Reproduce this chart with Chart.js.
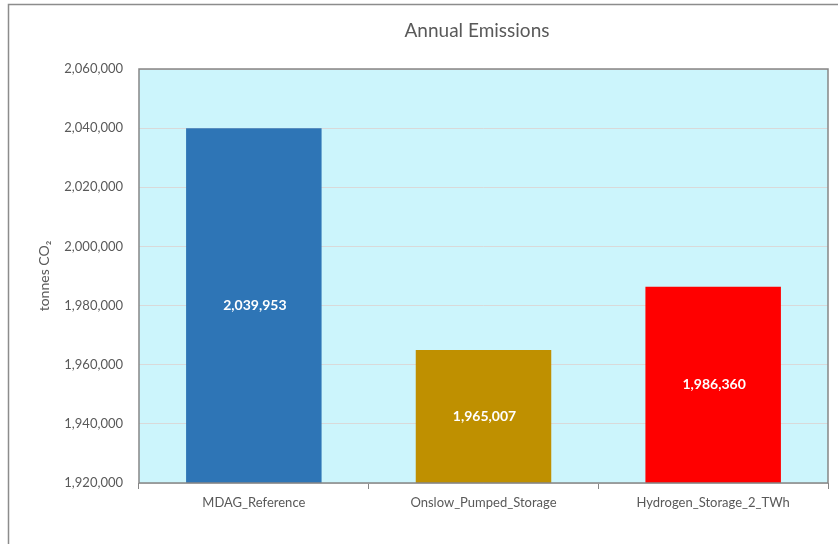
<!DOCTYPE html>
<html>
<head>
<meta charset="utf-8">
<title>Annual Emissions</title>
<script src="https://cdn.jsdelivr.net/npm/chart.js@4.4.1/dist/chart.umd.min.js"></script>
<style>
  html, body { margin: 0; padding: 0; background: #fff; }
  #wrap { width: 838px; height: 544px; position: relative; }
</style>
</head>
<body>
<div id="wrap"><canvas id="chart"></canvas></div>
<script>
const scenarios = ['MDAG_Reference', 'Onslow_Pumped_Storage', 'Hydrogen_Storage_2_TWh']
const emissions = [2039953, 1965007, 1986360]
const barColours = ['#2E75B6', '#BF9000', '#FF0000']
const yMin = 1920000
const yMax = 2060000
const yStep = 20000
const chartTitle = 'Annual Emissions'

const fmt = v => v.toLocaleString('en-US')

// outer chart frame, title, cyan plot fill and plot border
const framePlugin = {
  id: 'frame',
  beforeDraw(chart) {
    const { ctx, chartArea: a } = chart
    ctx.save()
    ctx.strokeStyle = '#8c8c8c'
    ctx.lineWidth = 1.5
    ctx.strokeRect(8.5, 4.5, 900, 600)
    ctx.fillStyle = '#CCF5FC'
    ctx.fillRect(a.left, a.top, a.right - a.left, a.bottom - a.top)
    // title sits centred on the full (wider) chart frame
    ctx.fillStyle = '#595959'
    ctx.font = '19px Lato'
    ctx.textAlign = 'center'
    ctx.textBaseline = 'middle'
    ctx.fillText(chartTitle, 477, 31)
    ctx.restore()
  },
  afterDatasetsDraw(chart) {
    const { ctx, chartArea: a } = chart
    ctx.save()
    ctx.strokeStyle = '#868686'
    ctx.lineWidth = 1.5
    ctx.strokeRect(a.left, a.top, a.right - a.left, a.bottom - a.top)
    ctx.restore()
  }
}

// value labels centred inside each bar
const valueLabels = {
  id: 'valueLabels',
  afterDraw(chart) {
    const { ctx } = chart
    const xs = chart.scales.x
    const ys = chart.scales.y
    ctx.save()
    ctx.fillStyle = '#ffffff'
    ctx.font = 'bold 14px Lato'
    ctx.textAlign = 'center'
    ctx.textBaseline = 'middle'
    emissions.forEach((v, i) => {
      const x = xs.getPixelForValue(i)
      const y = (ys.getPixelForValue(v) + ys.getPixelForValue(yMin)) / 2
      ctx.fillText(fmt(v), x + 1, y)
    })
    ctx.restore()
  }
}

new Chart(document.getElementById('chart'), {
  type: 'bar',
  data: {
    labels: scenarios,
    datasets: [{
      data: emissions,
      backgroundColor: barColours,
      borderWidth: 0,
      categoryPercentage: 1,
      barPercentage: 0.59
    }]
  },
  options: {
    responsive: true,
    maintainAspectRatio: false,
    animation: false,
    layout: { padding: { top: 69, left: 0, right: 10, bottom: 0 } },
    plugins: {
      legend: { display: false },
      tooltip: { enabled: false },
      title: { display: false }
    },
    scales: {
      x: {
        afterFit: s => { s.height = 61 },
        grid: {
          offset: true,
          drawOnChartArea: false,
          color: '#868686',
          tickLength: 6
        },
        border: { display: false },
        ticks: {
          color: '#595959',
          font: { size: 13, family: 'Lato' },
          padding: 6
        }
      },
      y: {
        min: yMin,
        max: yMax,
        afterFit: s => { s.width = 139 },
        afterBuildTicks: s => {
          s.ticks = []
          for (let v = yMin; v <= yMax; v += yStep) s.ticks.push({ value: v })
        },
        grid: { color: '#d9d9d9', drawTicks: false },
        border: { display: false },
        ticks: {
          color: '#595959',
          font: { size: 13, family: 'Lato' },
          padding: 16,
          callback: v => fmt(v)
        },
        title: {
          display: true,
          text: 'tonnes CO₂',
          color: '#595959',
          font: { size: 14, family: 'Lato' },
          padding: { top: 36, bottom: 0 }
        }
      }
    }
  },
  plugins: [framePlugin, valueLabels]
})
</script>
</body>
</html>
